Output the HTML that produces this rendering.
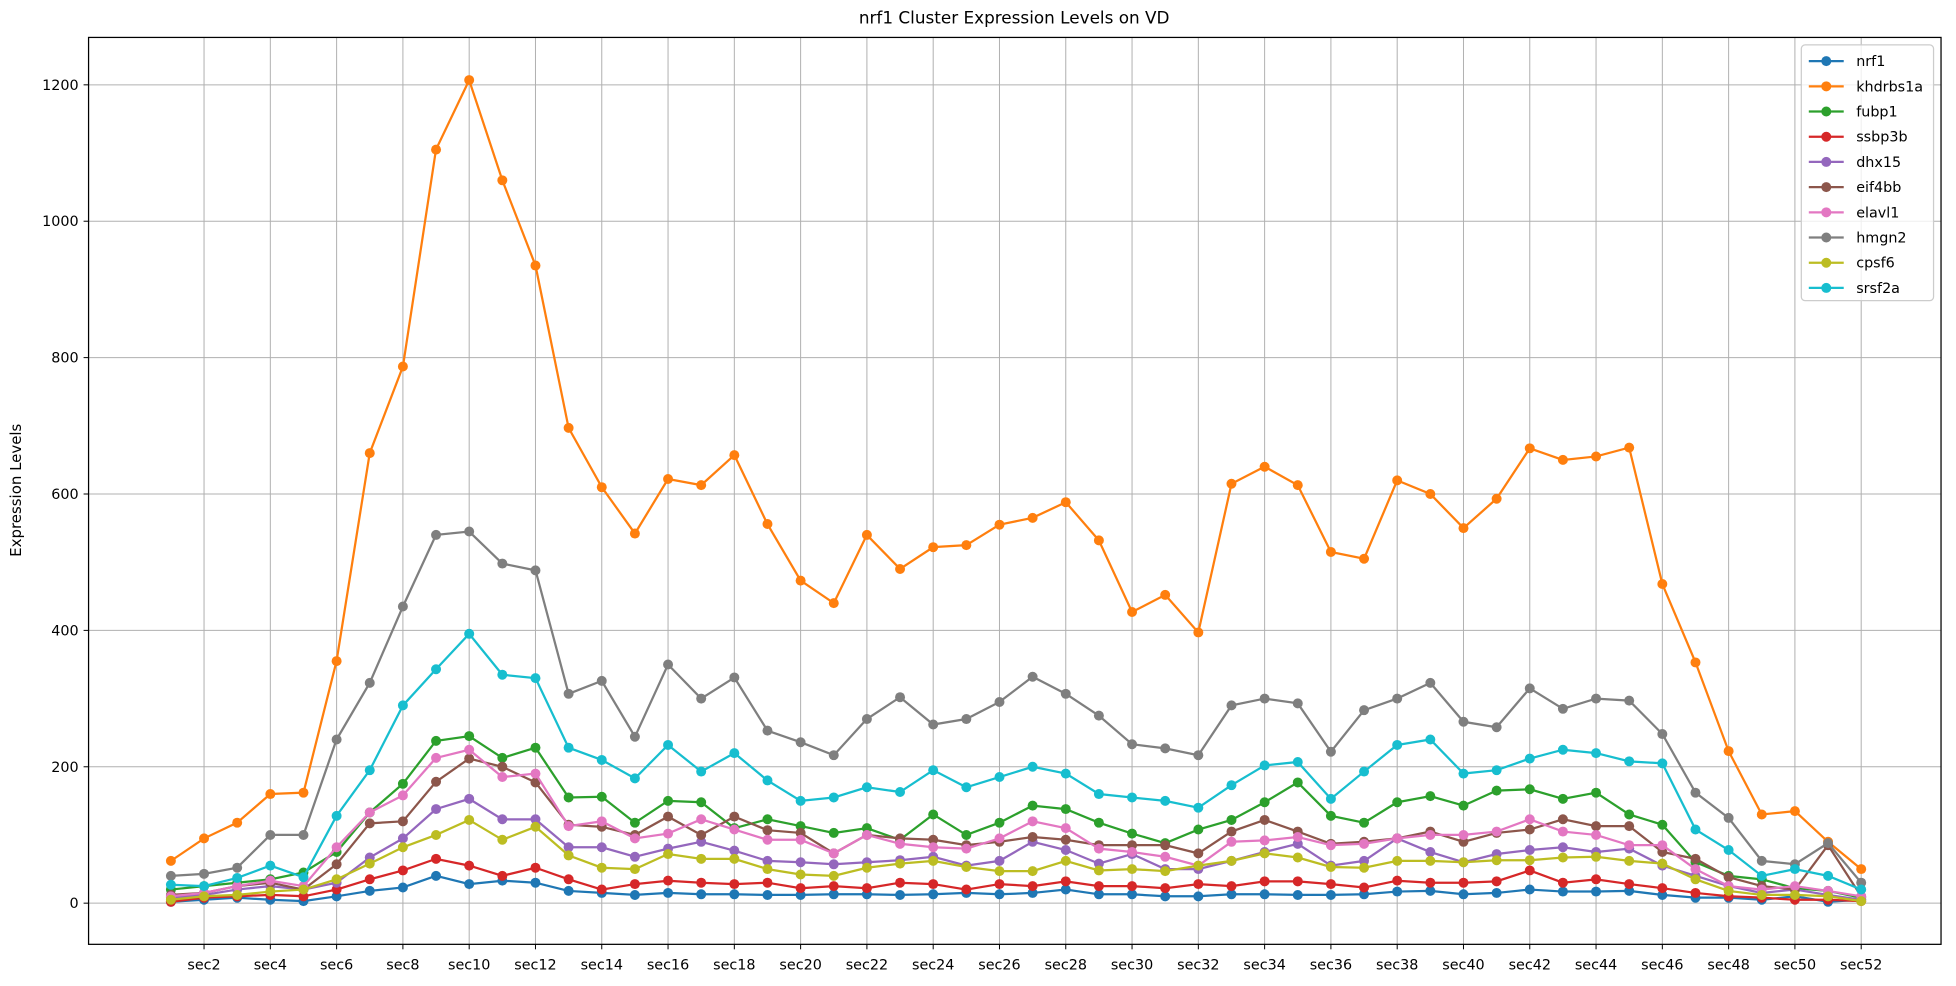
<!DOCTYPE html>
<html><head><meta charset="utf-8"><style>
body{margin:0;background:#fff;font-family:"Liberation Sans","DejaVu Sans",sans-serif}
svg{display:block}
</style></head><body>
<svg id="chart" width="1956" height="986" viewBox="0 0 1568 790.4" xmlns="http://www.w3.org/2000/svg" font-family="DejaVu Sans, Liberation Sans, sans-serif">
<rect width="1568" height="790.4" fill="#fff"/>
<text x="813" y="19" text-anchor="middle" font-size="13.5">nrf1 Cluster Expression Levels on VD</text>
<text transform="translate(17,393) rotate(-90)" text-anchor="middle" font-size="12">Expression Levels</text>
<g id="grid"></g><g id="series"></g>
<rect x="71" y="30" width="1485" height="727" fill="none" stroke="#000" stroke-width="1"/>
<g id="legend"></g>
</svg>
<script>
const categories=[];for(let i=1;i<=52;i++)categories.push('sec'+i);
const yTicks=[0,200,400,600,800,1000,1200];
const seriesNames=['nrf1','khdrbs1a','fubp1','ssbp3b','dhx15','eif4bb','elavl1','hmgn2','cpsf6','srsf2a'];
const seriesColors=['#1f77b4','#ff7f0e','#2ca02c','#d62728','#9467bd','#8c564b','#e377c2','#7f7f7f','#bcbd22','#17becf'];
const nrf1=[2,5,8,5,3,10,18,23,40,28,33,30,18,15,12,15,13,13,12,12,13,13,12,13,15,13,15,20,13,13,10,10,13,13,12,12,13,17,18,13,15,20,17,17,18,12,8,8,5,10,2,5];
const khdrbs1a=[62,95,118,160,162,355,660,787,1105,1207,1060,935,697,610,542,622,613,657,556,473,440,540,490,522,525,555,565,588,532,427,452,397,615,640,613,515,505,620,600,550,593,667,650,655,668,468,353,223,130,135,90,50];
const fubp1=[20,25,30,35,45,75,133,175,238,245,213,228,155,156,118,150,148,110,123,113,103,110,93,130,100,118,143,138,118,102,88,108,122,148,177,128,118,148,157,143,165,167,153,162,130,115,60,40,35,22,18,8];
const ssbp3b=[2,8,10,12,10,20,35,48,65,55,40,52,35,20,28,33,30,28,30,22,25,22,30,28,20,28,25,32,25,25,22,28,25,32,32,28,23,33,30,30,32,48,30,35,28,22,15,10,8,5,5,3];
const dhx15=[8,12,20,25,20,30,67,95,138,153,123,123,82,82,68,80,90,77,62,60,57,60,63,68,55,62,90,78,58,72,50,50,62,75,87,55,62,95,75,60,72,78,82,75,80,55,40,25,15,20,12,5];
const eif4bb=[12,15,25,30,20,57,117,120,178,212,200,177,115,112,100,127,100,127,107,103,73,100,95,93,85,90,97,93,85,85,85,73,105,122,105,87,90,95,105,90,103,108,123,113,113,75,65,38,25,20,85,10];
const elavl1=[10,15,25,33,25,82,133,158,213,225,185,190,113,120,95,102,123,108,93,93,73,100,87,82,80,95,120,110,80,75,68,55,90,92,97,85,87,95,100,100,105,123,105,100,85,85,50,25,20,25,18,10];
const hmgn2=[40,43,52,100,100,240,323,435,540,545,498,488,307,326,244,350,300,331,253,236,217,270,302,262,270,295,332,307,275,233,227,217,290,300,293,222,283,300,323,266,258,315,285,300,297,248,162,125,62,57,88,30];
const cpsf6=[5,10,12,17,20,35,58,82,100,122,93,112,70,52,50,72,65,65,50,42,40,52,58,62,53,47,47,62,48,50,47,55,62,73,67,53,52,62,62,60,63,63,67,68,62,58,35,18,12,12,10,3];
const srsf2a=[27,25,37,55,38,128,195,290,343,395,335,330,228,210,183,232,193,220,180,150,155,170,163,195,170,185,200,190,160,155,150,140,173,202,207,153,193,232,240,190,195,212,225,220,208,205,108,78,40,50,40,20];
const seriesValues=[nrf1,khdrbs1a,fubp1,ssbp3b,dhx15,eif4bb,elavl1,hmgn2,cpsf6,srsf2a];
const NS='http://www.w3.org/2000/svg';
const xScale=i=>137+i*(1492-137)/51;
const yScale=v=>724-v*(656/1200);
function mk(t,a,p){const e=document.createElementNS(NS,t);for(const k in a)e.setAttribute(k,a[k]);p.appendChild(e);return e;}
const grid=document.getElementById('grid');
yTicks.forEach(t=>{const y=yScale(t);
 const l=mk('line',{x1:71,x2:1556,y1:y,y2:y,stroke:'#b0b0b0','stroke-width':0.8},grid);
 
 
 mk('line',{x1:67,x2:71,y1:y,y2:y,stroke:'#000','stroke-width':0.8},grid);
 const tx=mk('text',{x:63,y:y+4,'text-anchor':'end','font-size':11.5},grid);tx.textContent=t;
 
 
});
categories.forEach((c,i)=>{if(i%2===0)return;const x=xScale(i);
 const l=mk('line',{x1:x,x2:x,y1:30,y2:757,stroke:'#b0b0b0','stroke-width':0.8},grid);
 
 
 mk('line',{x1:x,x2:x,y1:757,y2:761,stroke:'#000','stroke-width':0.8},grid);
 const tx=mk('text',{x:x,y:777,'text-anchor':'middle','font-size':11.5},grid);tx.textContent=c;
 
 
});
const sg=document.getElementById('series');
seriesValues.forEach((vals,s)=>{const g=mk('g',{},sg);
 
 
 const pts=vals.map((v,i)=>xScale(i).toFixed(1)+','+yScale(v).toFixed(1)).join(' ');
 const pl=mk('polyline',{points:pts,fill:'none',stroke:seriesColors[s],'stroke-width':1.8},g);
 
 
 vals.forEach((v,i)=>{const c=mk('circle',{cx:xScale(i),cy:yScale(v),r:4,fill:seriesColors[s]},g);
  
  });
});
const lg=document.getElementById('legend');
const box=mk('rect',{x:1444,y:36,width:106,height:205,fill:'#fff','fill-opacity':0.8,stroke:'#ccc',rx:3},lg);


seriesNames.forEach((n,s)=>{const y=49+s*20.2;const g=mk('g',{},lg);
 
 
 mk('line',{x1:1450,x2:1478,y1:y,y2:y,stroke:seriesColors[s],'stroke-width':1.8},g);
 mk('circle',{cx:1464,cy:y,r:4,fill:seriesColors[s]},g);
 const t=mk('text',{x:1488,y:y+4,'font-size':11.5},g);t.textContent=n;});
</script>
</body></html>
